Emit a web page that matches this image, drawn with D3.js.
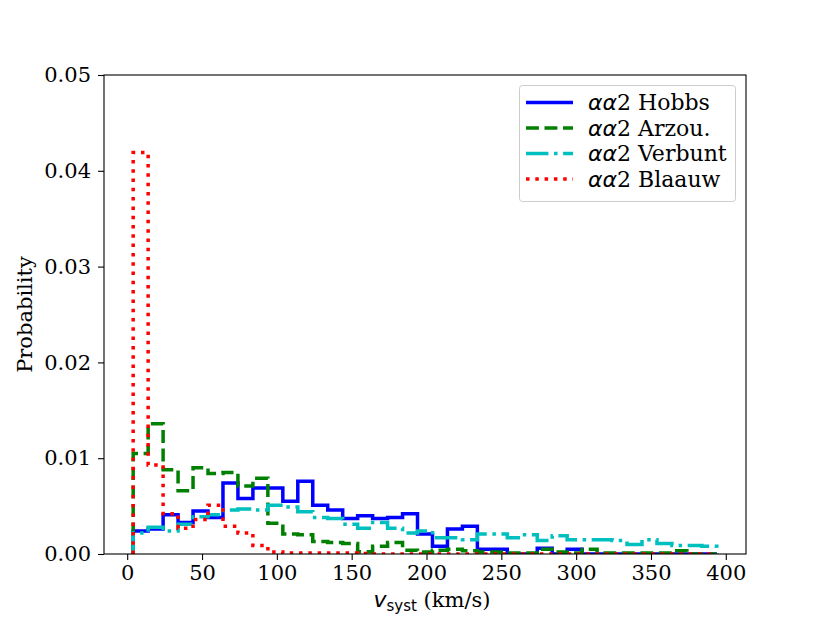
<!DOCTYPE html>
<html>
<head>
<meta charset="utf-8">
<script src="https://cdn.jsdelivr.net/npm/d3@7"></script>
<style>
  html, body { margin: 0; padding: 0; background: #fff; }
  svg { display: block; }
</style>
</head>
<body>
<svg id="chart" width="830" height="623"></svg>
<script>
// ---- data ----
const binStart = 4;
const binWidth = 10;
const hobbs = [0.0024, 0.0026, 0.0041, 0.0033, 0.0045, 0.0038, 0.0074, 0.0058, 0.0069, 0.0069,
  0.0055, 0.0076, 0.0051, 0.0046, 0.0037, 0.0040, 0.0037, 0.0038, 0.0042, 0.0021,
  0.0008, 0.0026, 0.0029, 0.0005, 0.0005, 0, 0, 0.0006, 0, 0.0005,
  0, 0, 0, 0, 0, 0, 0, 0, 0];
const arzou = [0.0105, 0.0136, 0.0088, 0.0066, 0.0090, 0.0084, 0.0085, 0.0071, 0.0079, 0.0032,
  0.0021, 0.0020, 0.0013, 0.0012, 0.0011, 0.00024, 0.0008, 0.0012, 0.0004, 0.0002,
  0.0004, 0.0005, 0.00035, 0.0002, 0.0002, 0.0001, 0.0001, 0.0005, 0.0002, 0.0001,
  0.0005, 0.0001, 0.0001, 0.0001, 0.0001, 0.0001, 0.00035, 0, 0];
const verbunt = [0.0022, 0.0028, 0.0024, 0.0031, 0.0039, 0.0041, 0.0046, 0.0047, 0.0046, 0.0051,
  0.0049, 0.0044, 0.0038, 0.0037, 0.0031, 0.0027, 0.0033, 0.0027, 0.0022, 0.0024,
  0.0017, 0.0017, 0.0015, 0.0021, 0.0021, 0.0017, 0.0020, 0.0014, 0.0019, 0.0015,
  0.0015, 0.0015, 0.0014, 0.0010, 0.0015, 0.0011, 0.0009, 0.0009, 0.0008];
const blaauw = [0.0419, 0.0093, 0.0042, 0.0027, 0.0036, 0.0051, 0.0029, 0.0022, 0.0009, 0.0002,
  0.0001, 0.0001, 0.0001, 0.0001, 0.0001, 0.00005, 0, 0, 0, 0,
  0, 0, 0, 0, 0, 0, 0, 0, 0, 0,
  0, 0, 0, 0, 0, 0, 0, 0, 0];
const seriesNames = ["Hobbs", "Arzou.", "Verbunt", "Blaauw"];
const xTicks = [0, 50, 100, 150, 200, 250, 300, 350, 400];
const yTicks = [0, 0.01, 0.02, 0.03, 0.04, 0.05];

const series = [
  { name: seriesNames[0], values: hobbs,   color: "#0000ff", dash: null },
  { name: seriesNames[1], values: arzou,   color: "#008000", dash: "12.9,5.6" },
  { name: seriesNames[2], values: verbunt, color: "#00bfbf", dash: "22.4,5.6,3.5,5.6" },
  { name: seriesNames[3], values: blaauw,  color: "#ff0000", dash: "3.5,5.8" }
];

// ---- layout ----
const svg = d3.select("#chart");
const L = 104, R = 746, T = 75, B = 554;
const x = d3.scaleLinear().domain([-15.5, 413.5]).range([L, R]);
const y = d3.scaleLinear().domain([0, 0.05]).range([B, T]);
const serif = "'DejaVu Serif', serif";
const sans = "'DejaVu Sans', sans-serif";
const fs = 21;

svg.append("defs").append("clipPath").attr("id", "clip")
  .append("rect").attr("x", L).attr("y", T).attr("width", R - L).attr("height", B - T);

// histogram step lines
const line = d3.line().x(d => x(d[0])).y(d => y(d[1]));
const plot = svg.append("g").attr("clip-path", "url(#clip)");
series.forEach(s => {
  const pts = [[binStart, 0]];
  s.values.forEach((v, i) => {
    const e0 = binStart + i * binWidth, e1 = e0 + binWidth;
    pts.push([e0, v]); pts.push([e1, v]);
  });
  pts.push([binStart + s.values.length * binWidth, 0]);
  plot.append("path").attr("d", line(pts))
    .attr("fill", "none").attr("stroke", s.color).attr("stroke-width", 3.5)
    .attr("stroke-linejoin", "miter").attr("stroke-linecap", "butt")
    .attr("stroke-dasharray", s.dash);
});

// axes
const xAxis = svg.append("g").attr("transform", `translate(0,${B})`)
  .call(d3.axisBottom(x).tickValues(xTicks).tickFormat(d3.format("d")).tickSizeOuter(0).tickSize(6).tickPadding(5));
const yAxis = svg.append("g").attr("transform", `translate(${L},0)`)
  .call(d3.axisLeft(y).tickValues(yTicks).tickFormat(d3.format(".2f")).tickSizeOuter(0).tickSize(6).tickPadding(7));
[xAxis, yAxis].forEach(a => {
  a.select(".domain").remove();
  a.selectAll("line").attr("stroke", "#000").attr("stroke-width", 1.1);
  a.selectAll("text").attr("font-family", serif).attr("font-size", fs).attr("fill", "#000");
});

// frame
svg.append("rect").attr("x", L).attr("y", T).attr("width", R - L).attr("height", B - T)
  .attr("fill", "none").attr("stroke", "#000").attr("stroke-width", 1.1);

// axis labels
const xl = svg.append("text").attr("x", (L + R) / 2 + 7).attr("y", 607)
  .attr("text-anchor", "middle").attr("font-size", fs).attr("fill", "#000");
xl.append("tspan").attr("font-family", sans).attr("font-style", "italic").attr("font-size", 22).text("v");
xl.append("tspan").attr("font-family", sans).attr("font-size", 15).attr("dy", 4).text("syst");
xl.append("tspan").attr("font-family", serif).attr("dy", -4).text(" (km/s)");

svg.append("text").attr("transform", `translate(32,${(T + B) / 2}) rotate(-90)`)
  .attr("text-anchor", "middle").attr("font-family", serif).attr("font-size", fs)
  .attr("fill", "#000").text("Probability");

// legend
const lg = svg.append("g");
lg.append("rect").attr("x", 519.5).attr("y", 85.5).attr("width", 216).attr("height", 116)
  .attr("rx", 3).attr("fill", "#fff").attr("fill-opacity", 0.8)
  .attr("stroke", "#cccccc").attr("stroke-width", 1);
series.forEach((s, i) => {
  const yy = 102.5 + i * 25.5;
  lg.append("line").attr("x1", 526).attr("x2", 573).attr("y1", yy).attr("y2", yy)
    .attr("stroke", s.color).attr("stroke-width", 3.5).attr("stroke-dasharray", s.dash);
  const t = lg.append("text").attr("x", 588).attr("y", yy + 7.5).attr("font-size", 22).attr("fill", "#000");
  t.append("tspan").attr("font-family", sans).attr("font-style", "italic").text("αα");
  t.append("tspan").attr("font-family", serif).text("2 " + s.name);
});
</script>
</body>
</html>
